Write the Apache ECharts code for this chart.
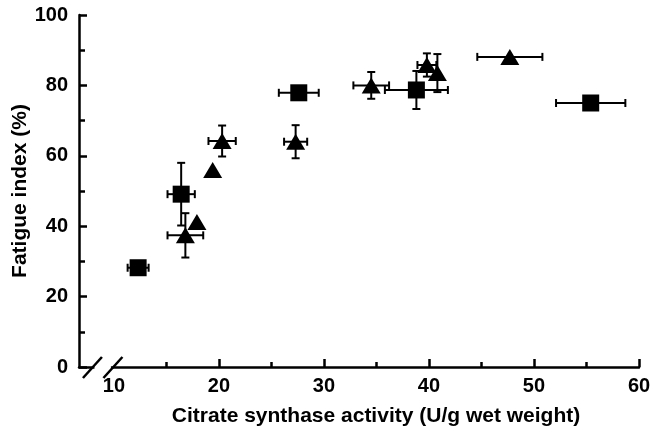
<!DOCTYPE html>
<html>
<head>
<meta charset="utf-8">
<script src="https://cdn.jsdelivr.net/npm/echarts@6/dist/echarts.min.js"></script>
<style>
  html, body { margin: 0; padding: 0; background: #fff; }
  #chart { width: 652px; height: 428px; }
</style>
</head>
<body>
<div id="chart"></div>
<script>
// squares
var squareX    = [12.3, 16.4, 27.6, 38.8, 55.4];
var squareY    = [28.2, 49.1, 77.9, 78.7, 75.0];
var squareXErr = [1.0, 1.3, 1.9, 3.0, 3.3];
var squareYErr = [0, 8.9, 0, 5.4, 0];

// triangles
var triX    = [16.8, 17.9, 19.4, 20.3, 27.3, 34.5, 39.8, 40.8, 47.7];
var triY    = [37.4, 41.2, 56.0, 64.2, 64.0, 80.0, 85.8, 83.5, 88.1];
var triXErr = [1.7, 0, 0, 1.3, 1.1, 1.7, 0.9, 0, 3.1];
var triYErr = [6.3, 0, 0, 4.4, 4.7, 3.8, 3.3, 5.4, 0];

var xMajor = [20, 30, 40, 50, 60];
var xLabels = [10, 20, 30, 40, 50, 60];
var xMinor = [15, 25, 35, 45, 55];

var xMin = 6.67, xMax = 60;
var font = 'Liberation Sans, Arial, Helvetica, sans-serif';

function pts(xs, ys) {
    var out = [];
    for (var i = 0; i < xs.length; i++) out.push([xs[i], ys[i]]);
    return out;
}
function errs(xs, ys, xe, ye) {
    var out = [];
    for (var i = 0; i < xs.length; i++) out.push([xs[i], ys[i], xe[i], ye[i]]);
    return out;
}

var errData = errs(squareX, squareY, squareXErr, squareYErr)
    .concat(errs(triX, triY, triXErr, triYErr));

function renderErr(params, api) {
    var x = api.value(0), y = api.value(1), xe = api.value(2), ye = api.value(3);
    var kids = [];
    var cap = 4;
    var st = { stroke: '#000', lineWidth: 2 };
    if (xe > 0) {
        var l = api.coord([x - xe, y]), r = api.coord([x + xe, y]);
        kids.push({ type: 'line', shape: { x1: l[0], y1: l[1], x2: r[0], y2: r[1] }, style: st });
        kids.push({ type: 'line', shape: { x1: l[0], y1: l[1] - cap, x2: l[0], y2: l[1] + cap }, style: st });
        kids.push({ type: 'line', shape: { x1: r[0], y1: r[1] - cap, x2: r[0], y2: r[1] + cap }, style: st });
    }
    if (ye > 0) {
        var t = api.coord([x, y + ye]), b = api.coord([x, y - ye]);
        kids.push({ type: 'line', shape: { x1: t[0], y1: t[1], x2: b[0], y2: b[1] }, style: st });
        kids.push({ type: 'line', shape: { x1: t[0] - cap, y1: t[1], x2: t[0] + cap, y2: t[1] }, style: st });
        kids.push({ type: 'line', shape: { x1: b[0] - cap, y1: b[1], x2: b[0] + cap, y2: b[1] }, style: st });
    }
    return { type: 'group', children: kids };
}

var myChart = echarts.init(document.getElementById('chart'));

var option = {
    animation: false,
    backgroundColor: '#fff',
    grid: { left: 79, right: 13, top: 15, bottom: 61, outerBoundsMode: 'none', containLabel: false },
    xAxis: [
        {
            type: 'value', position: 'bottom',
            min: xMin, max: xMax,
            name: 'Citrate synthase activity (U/g wet weight)',
            nameLocation: 'middle', nameGap: 39, nameMoveOverlap: false,
            nameTextStyle: { fontFamily: font, fontSize: 21, fontWeight: 'bold', color: '#000', padding: [0, 0, 0, 34] },
            axisLine: { lineStyle: { color: '#000', width: 2.5 } },
            axisTick: { inside: true, length: 8, lineStyle: { color: '#000', width: 2.5 }, customValues: xMajor },
            axisLabel: { customValues: xLabels, margin: 9, fontFamily: font, fontSize: 20, fontWeight: 'bold', color: '#000' },
            splitLine: { show: false }
        },
        {
            type: 'value', position: 'bottom',
            min: xMin, max: xMax,
            axisLine: { show: false },
            axisTick: { inside: true, length: 5, lineStyle: { color: '#000', width: 2.5 }, customValues: xMinor },
            axisLabel: { show: false },
            splitLine: { show: false }
        }
    ],
    yAxis: {
        type: 'value', min: 0, max: 100, interval: 20,
        name: 'Fatigue index (%)',
        nameLocation: 'middle', nameGap: 48, nameMoveOverlap: false,
        nameTextStyle: { fontFamily: font, fontSize: 21, fontWeight: 'bold', color: '#000' },
        axisLine: { show: true, lineStyle: { color: '#000', width: 2.5 } },
        axisTick: { show: true, inside: true, length: 8, lineStyle: { color: '#000', width: 2.5 } },
        minorTick: { show: true, splitNumber: 2, length: 6, lineStyle: { color: '#000', width: 2.5 } },
        axisLabel: { margin: 11, fontFamily: font, fontSize: 20, fontWeight: 'bold', color: '#000' },
        splitLine: { show: false }
    },
    series: [
        {
            type: 'custom', xAxisIndex: 0, z: 2,
            renderItem: renderErr,
            data: errData
        },
        {
            type: 'scatter', xAxisIndex: 0, z: 3,
            symbol: 'rect', symbolSize: 17,
            itemStyle: { color: '#000', opacity: 1 },
            data: pts(squareX, squareY)
        },
        {
            type: 'scatter', xAxisIndex: 0, z: 3,
            symbol: 'triangle', symbolSize: [19, 16],
            itemStyle: { color: '#000', opacity: 1 },
            data: pts(triX, triY)
        }
    ]
};

myChart.setOption(option);

// axis break marks
var p1 = myChart.convertToPixel({ xAxisIndex: 0, yAxisIndex: 0 }, [7.95, 0]);
var p2 = myChart.convertToPixel({ xAxisIndex: 0, yAxisIndex: 0 }, [9.9, 0]);
var sl = { stroke: '#000', lineWidth: 2.5 };
myChart.setOption({
    graphic: [
        { type: 'rect', z: 100, shape: { x: p1[0] + 2, y: p1[1] - 3, width: p2[0] - p1[0] - 4, height: 6 }, style: { fill: '#fff' } },
        { type: 'line', z: 101, shape: { x1: p1[0] - 9.5, y1: p1[1] + 11, x2: p1[0] + 9.5, y2: p1[1] - 10 }, style: sl },
        { type: 'line', z: 101, shape: { x1: p2[0] - 9.5, y1: p2[1] + 11, x2: p2[0] + 9.5, y2: p2[1] - 10 }, style: sl }
    ]
});
</script>
</body>
</html>
